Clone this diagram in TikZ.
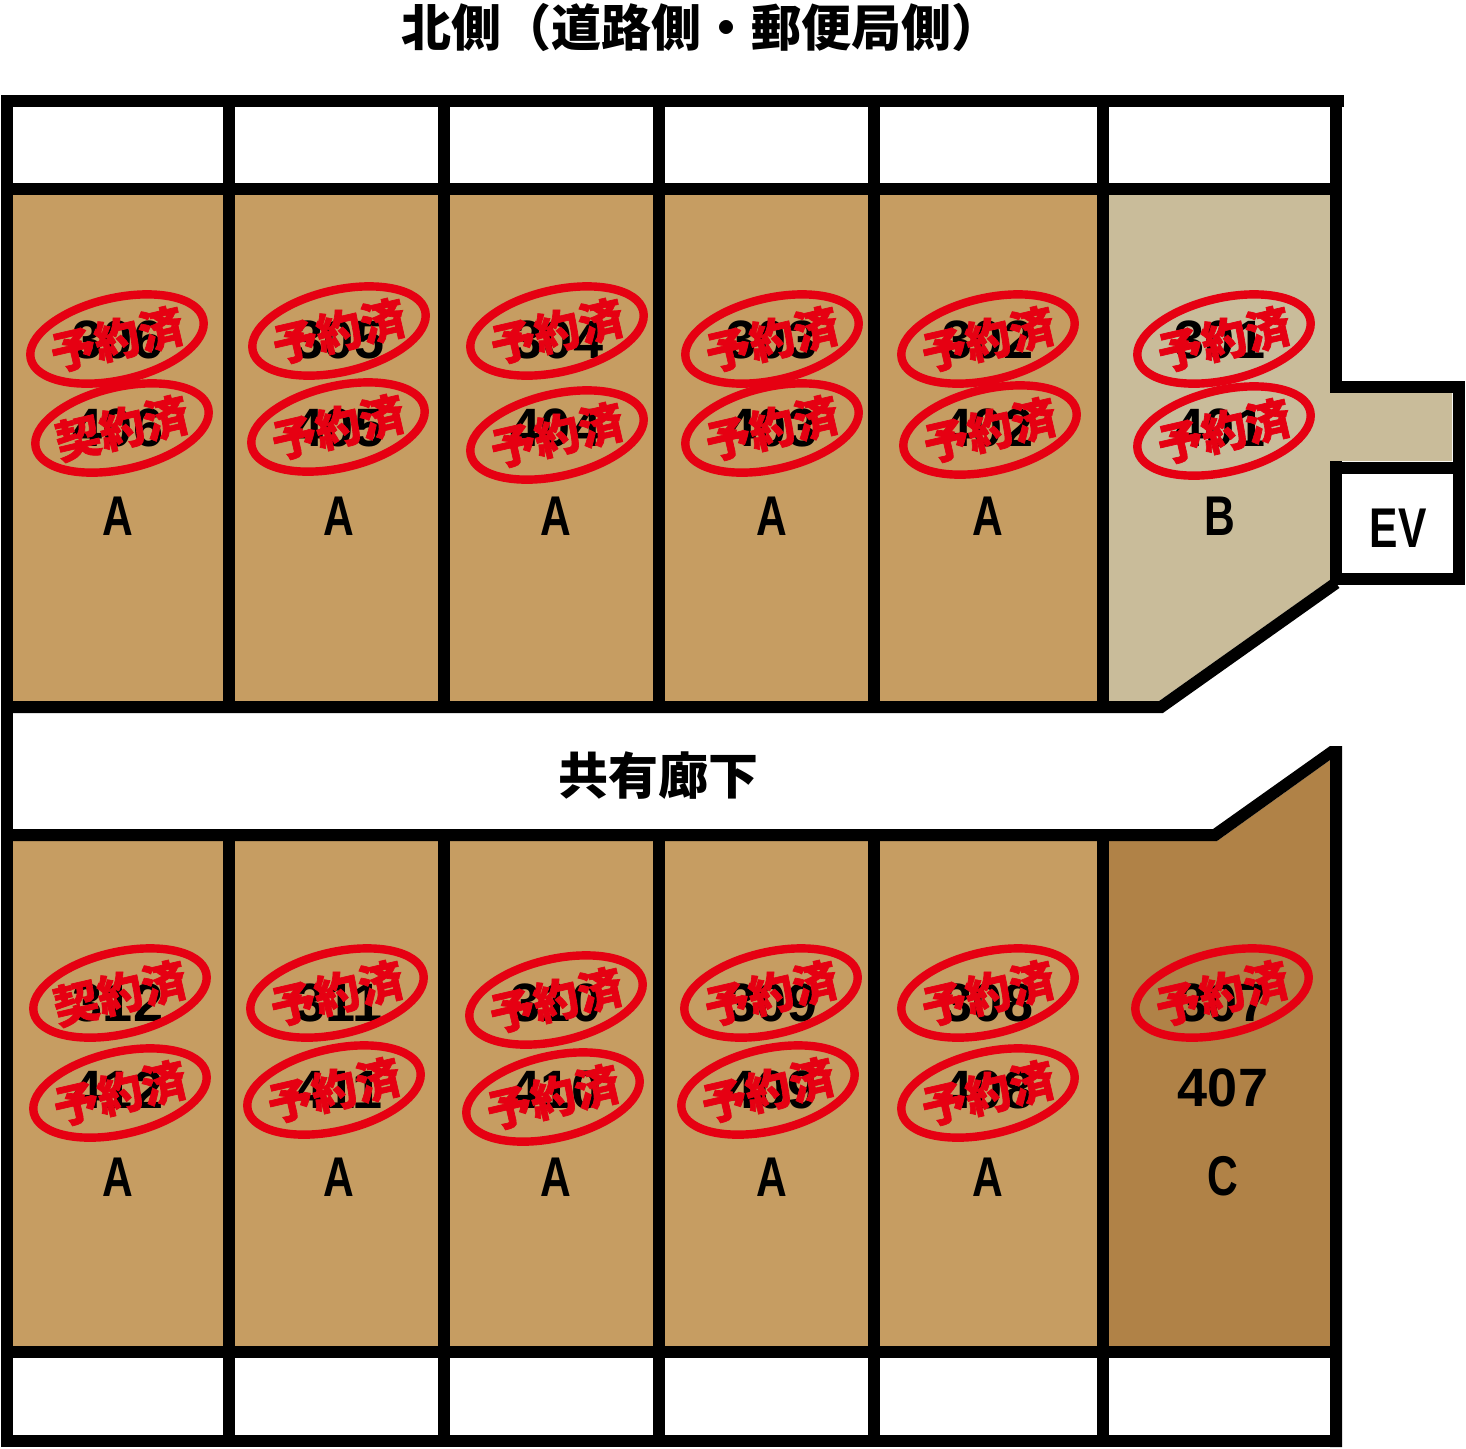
\documentclass[tikz,border=0pt]{standalone}
\usepackage{fontspec}
\usetikzlibrary{shapes.geometric}
\newfontfamily\cjkfont{Noto Sans CJK JP}
\newfontfamily\stampfont[AutoFakeBold=1.5]{Noto Sans CJK JP Black}
\newfontfamily\numfont{Liberation Sans}
\newfontfamily\letterfont[FakeStretch=0.76]{Liberation Sans}
\definecolor{unitA}{HTML}{C69D62}
\definecolor{unitB}{HTML}{C9BC9A}
\definecolor{unitC}{HTML}{B08247}
\definecolor{stampred}{HTML}{E60012}
\newcommand{\stamptext}[1]{\makebox[0pt][c]{\raisebox{-0.38em}[0pt][0pt]{#1}}}
\tikzset{
  wall/.style={line width=6pt, black, line join=miter},
  roomno/.style={font=\numfont\bfseries\fontsize{27}{27}\selectfont, inner sep=0pt},
  typeno/.style={font=\letterfont\bfseries\fontsize{28}{28}\selectfont, inner sep=0pt},
  heading/.style={font=\cjkfont\bfseries\fontsize{25}{25}\selectfont, inner sep=0pt},
  stamp/.style={draw=stampred, line width=4.2pt, ellipse, rotate=13, inner sep=0pt,
    minimum width=88.5pt, minimum height=41pt, text=stampred,
    font=\stampfont\bfseries\fontsize{22.5}{22.5}\selectfont},
}
\begin{document}
\begin{tikzpicture}[x=0.5pt, y=-0.5pt]
  \useasboundingbox (0,0) rectangle (1466,1448);
  % floors
  \foreach \xa/\xb in {13/223, 235/438, 450/653, 665/868, 880/1097} {
    \fill[unitA] (\xa,195) rectangle (\xb,701);
    \fill[unitA] (\xa,841) rectangle (\xb,1346);
  }
  \fill[unitB] (1109,195) -- (1330,195) -- (1330,393) -- (1452,393) -- (1452,461) -- (1330,461)
    -- (1330,580) -- (1159,701) -- (1109,701) -- cycle;
  \fill[unitC] (1109,841) -- (1217,841) -- (1330,760) -- (1330,1346) -- (1109,1346) -- cycle;
  % walls
  \draw[wall] (1,101) -- (1344,101);
  \draw[wall] (1,189) -- (1330,189);
  \draw[wall] (7,95) -- (7,1447);
  \foreach \xa in {229, 444, 659, 874, 1103} {
    \draw[wall] (\xa,95) -- (\xa,701);
    \draw[wall] (\xa,841) -- (\xa,1447);
  }
  \draw[wall] (1336,95) -- (1336,381);
  \draw[wall] (1330,387) -- (1459,387) -- (1459,585);
  \draw[wall] (1330,467.5) -- (1465,467.5);
  \draw[wall] (1336,461) -- (1336,585);
  \draw[wall] (1342,579) -- (1465,579);
  \draw[wall] (1,707) -- (1161,707) -- (1336,583);
  \fill[black] (1,829) -- (1213,829) -- (1330,746) -- (1342,746) -- (1342,1447) -- (1330,1447)
    -- (1330,760) -- (1217,841) -- (1,841) -- cycle;
  \draw[wall] (1,1352) -- (1342,1352);
  \draw[wall] (1,1441) -- (1342,1441);
  % headings
  \node[heading] (north) at (701,27) {北側（道路側・郵便局側）};
  \node[heading] (hall) at (658,776) {共有廊下};
  \node[typeno] (ev) at (1398,528) {EV};
  % room numbers
  \foreach \no/\px/\py in {306/118/340, 305/339/340, 304/558/340, 303/772/340, 302/988/340, 301/1220/340,
      406/118/428, 405/339/428, 404/556/428, 403/772/428, 402/988/428, 401/1220/428,
      312/118/1003, 311/339/1003, 310/556/1003, 309/772/1003, 308/988/1003, 307/1223/1003,
      412/118/1090, 411/339/1090, 410/556/1090, 409/772/1090, 408/988/1090, 407/1223/1088} {
    \node[roomno] (r\no) at (\px,\py) {\no};
  }
  % unit types
  \foreach \nm/\px/\py/\tp in {a1/118/516/A, a2/339/516/A, a3/556/516/A, a4/772/516/A, a5/988/516/A, b1/1220/516/B,
      a6/118/1177/A, a7/339/1177/A, a8/556/1177/A, a9/772/1177/A, a10/988/1177/A, c1/1223/1176/C} {
    \node[typeno] (t\nm) at (\px,\py) {\tp};
  }
  % stamps
  \foreach \no/\px/\py/\txt in {306/117/339/予, 305/339/331/予, 304/557/331/予, 303/772/339/予, 302/988/339/予, 301/1224/339/予,
      406/122/428/契, 405/338/427/予, 404/557/435/予, 403/772/428/予, 402/990/430/予, 401/1224/431/予,
      312/120/993/契, 311/337/993/予, 310/556/1000/予, 309/771/993/予, 308/988/993/予, 307/1222/993/予,
      412/120/1093/予, 411/334/1090/予, 410/553/1097/予, 409/768/1090/予, 408/988/1093/予} {
    \node[stamp] (s\no) at (\px,\py) {\stamptext{\txt 約済}};
  }
\end{tikzpicture}
\end{document}
